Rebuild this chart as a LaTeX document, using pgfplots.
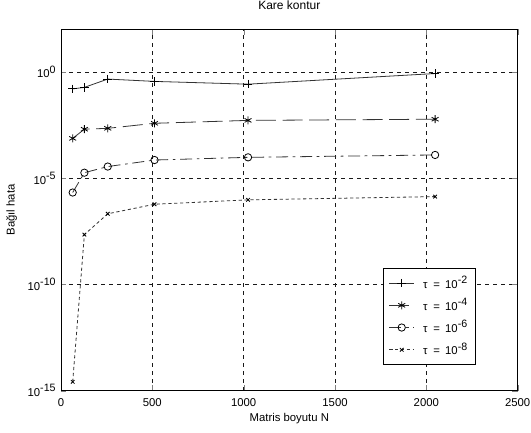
\documentclass[border=0pt]{standalone}
\usepackage{fontspec}
\setmainfont{Liberation Sans}
\usepackage{pgfplots}
\pgfplotsset{compat=1.18}
\newcommand{\sps}[1]{\raisebox{3.6pt}{\fontsize{8}{9}\selectfont #1}}
\newcommand{\leg}[1]{\hspace{4.5pt}τ\hspace{2pt} = \hspace{1.5pt}10\sps{#1}\hspace{7pt}}
\begin{document}
\begin{tikzpicture}[font=\fontsize{8.5}{10}\selectfont]
\useasboundingbox (0,0) rectangle (398.25pt,324pt);
\begin{axis}[
  at={(45.75pt,31pt)}, anchor=south west,
  scale only axis, width=342.5pt, height=271pt,
  xmin=0, xmax=2500,
  ymode=log, log basis y=10, ymin=1e-15, ymax=1e2,
  xtick={0,500,1000,1500,2000,2500},
  ytick={1e-15,1e-10,1e-5,1},
  yticklabels={10\sps{-15},10\sps{-10},10\sps{-5},10\sps{0}},
  minor tick num=0,
  tick align=inside,
  major tick length=4pt,
  /pgf/number format/assume math mode=true,
  /pgf/number format/1000 sep={},
  xticklabel style={anchor=base, yshift=-11.5pt},
  yticklabel style={xshift=-0.5pt},
  grid=major,
  major grid style={draw=black!90, line width=0.5pt, dash pattern=on 3pt off 3pt},
  axis line style={line width=0.6pt},
  title={Kare kontur},
  title style={at={(axis description cs:0.5,1)}, anchor=base, yshift=9pt, font=\fontsize{9}{10}\selectfont},
  xlabel={Matris boyutu N},
  xlabel style={at={(axis description cs:0.5,0)}, anchor=base, yshift=-23pt},
  ylabel={Bağıl hata},
  ylabel style={at={(axis description cs:0,0.5)}, anchor=center, rotate=0, yshift=37pt},
  legend image code/.code={\draw[mark repeat=2,mark phase=2,#1] plot coordinates {(0pt,0pt) (9.25pt,0pt) (18.5pt,0pt)};},
  legend style={at={(0.908,0.3387)}, anchor=north east, draw=black, fill=white,
    line width=0.6pt, inner xsep=4pt, inner ysep=3.5pt, row sep=2pt,
    font=\fontsize{8.5}{10}\selectfont},
  legend cell align=left,
]
\addplot[black!80, line width=0.6pt, mark=+, mark size=3.2pt, mark options={draw=black, solid}]
  coordinates {(64,0.158) (128,0.186) (256,0.457) (512,0.355) (1024,0.263) (2048,0.832)};
\addlegendentry{\leg{-2}}
\addplot[black!80, line width=0.6pt, dash pattern=on 15pt off 5pt, mark=asterisk, mark size=3pt, mark options={draw=black, solid}]
  coordinates {(64,7.4e-4) (128,2.0e-3) (256,2.2e-3) (512,3.8e-3) (1024,5.2e-3) (2048,5.9e-3)};
\addlegendentry{\leg{-4}}
\addplot[black!80, line width=0.6pt, dash pattern=on 9pt off 3.5pt on 2pt off 3.5pt, mark=o, mark size=2.75pt, mark options={draw=black, solid}]
  coordinates {(64,2.1e-6) (128,1.8e-5) (256,3.5e-5) (512,7.1e-5) (1024,9.5e-5) (2048,1.23e-4)};
\addlegendentry{\leg{-6}}
\addplot[black!80, line width=0.6pt, dash pattern=on 2.4pt off 2pt, mark=x, mark size=1.9pt, mark options={draw=black, solid}]
  coordinates {(64,2.6e-15) (128,2.2e-8) (256,2.1e-7) (512,5.9e-7) (1024,9.5e-7) (2048,1.35e-6)};
\addlegendentry{\leg{-8}}
\end{axis}
\end{tikzpicture}
\end{document}
